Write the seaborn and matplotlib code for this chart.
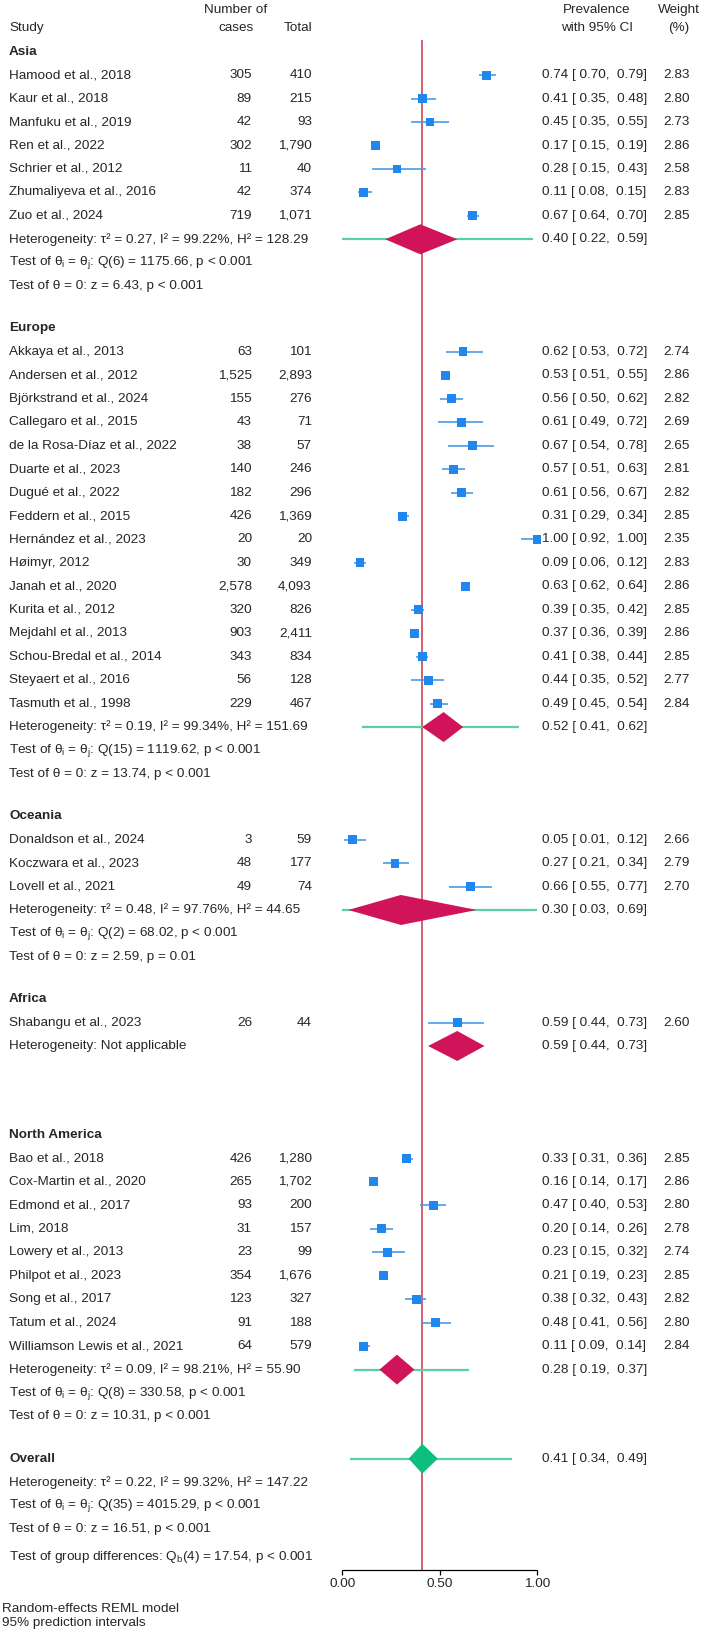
#!/usr/bin/env python3

# forest_plot.py
#
# Forest plot of the pooled prevalence by region, random-effects REML model.
import matplotlib
matplotlib.use('Agg')
import matplotlib.pyplot as plt
import numpy as np
import pandas as pd
import seaborn as sb

from matplotlib.patches import Polygon

# Study level data, in the order shown
REGIONS = ['Asia', 'Europe', 'Oceania', 'Africa', 'North America']
region = ['Asia'] * 7 + ['Europe'] * 16 + ['Oceania'] * 3 + ['Africa'] * 1 + ['North America'] * 9
studies = [
    'Hamood et al., 2018', 'Kaur et al., 2018', 'Manfuku et al., 2019', 'Ren et al., 2022',
    'Schrier et al., 2012', 'Zhumaliyeva et al., 2016', 'Zuo et al., 2024',
    'Akkaya et al., 2013', 'Andersen et al., 2012', 'Björkstrand et al., 2024', 'Callegaro et al., 2015',
    'de la Rosa-Díaz et al., 2022', 'Duarte et al., 2023', 'Dugué et al., 2022', 'Feddern et al., 2015',
    'Hernández et al., 2023', 'Høimyr, 2012', 'Janah et al., 2020', 'Kurita et al., 2012',
    'Mejdahl et al., 2013', 'Schou-Bredal et al., 2014', 'Steyaert et al., 2016', 'Tasmuth et al., 1998',
    'Donaldson et al., 2024', 'Koczwara et al., 2023', 'Lovell et al., 2021',
    'Shabangu et al., 2023',
    'Bao et al., 2018', 'Cox-Martin et al., 2020', 'Edmond et al., 2017', 'Lim, 2018',
    'Lowery et al., 2013', 'Philpot et al., 2023', 'Song et al., 2017', 'Tatum et al., 2024',
    'Williamson Lewis et al., 2021']
cases = [305, 89, 42, 302, 11, 42, 719,
         63, 1525, 155, 43, 38, 140, 182, 426, 20, 30, 2578, 320, 903, 343, 56, 229,
         3, 48, 49,
         26,
         426, 265, 93, 31, 23, 354, 123, 91, 64]
totals = [410, 215, 93, 1790, 40, 374, 1071,
          101, 2893, 276, 71, 57, 246, 296, 1369, 20, 349, 4093, 826, 2411, 834, 128, 467,
          59, 177, 74,
          44,
          1280, 1702, 200, 157, 99, 1676, 327, 188, 579]
prevalence = [0.74, 0.41, 0.45, 0.17, 0.28, 0.11, 0.67,
              0.62, 0.53, 0.56, 0.61, 0.67, 0.57, 0.61, 0.31, 1.00, 0.09, 0.63, 0.39, 0.37, 0.41, 0.44, 0.49,
              0.05, 0.27, 0.66,
              0.59,
              0.33, 0.16, 0.47, 0.20, 0.23, 0.21, 0.38, 0.48, 0.11]
lower = [0.70, 0.35, 0.35, 0.15, 0.15, 0.08, 0.64,
         0.53, 0.51, 0.50, 0.49, 0.54, 0.51, 0.56, 0.29, 0.92, 0.06, 0.62, 0.35, 0.36, 0.38, 0.35, 0.45,
         0.01, 0.21, 0.55,
         0.44,
         0.31, 0.14, 0.40, 0.14, 0.15, 0.19, 0.32, 0.41, 0.09]
upper = [0.79, 0.48, 0.55, 0.19, 0.43, 0.15, 0.70,
         0.72, 0.55, 0.62, 0.72, 0.78, 0.63, 0.67, 0.34, 1.00, 0.12, 0.64, 0.42, 0.39, 0.44, 0.52, 0.54,
         0.12, 0.34, 0.77,
         0.73,
         0.36, 0.17, 0.53, 0.26, 0.32, 0.23, 0.43, 0.56, 0.14]
weight = [2.83, 2.80, 2.73, 2.86, 2.58, 2.83, 2.85,
          2.74, 2.86, 2.82, 2.69, 2.65, 2.81, 2.82, 2.85, 2.35, 2.83, 2.86, 2.85, 2.86, 2.85, 2.77, 2.84,
          2.66, 2.79, 2.70,
          2.60,
          2.85, 2.86, 2.80, 2.78, 2.74, 2.85, 2.82, 2.80, 2.84]

# Subgroup summaries, one entry per region
group_est = [0.40, 0.52, 0.30, 0.59, 0.28]
group_lo = [0.22, 0.41, 0.03, 0.44, 0.19]
group_hi = [0.59, 0.62, 0.69, 0.73, 0.37]
pi_lo = [0.00, 0.10, 0.00, None, 0.06]
pi_hi = [0.98, 0.91, 1.00, None, 0.65]
heterogeneity = [
    'Heterogeneity: τ² = 0.27, I² = 99.22%, H² = 128.29',
    'Heterogeneity: τ² = 0.19, I² = 99.34%, H² = 151.69',
    'Heterogeneity: τ² = 0.48, I² = 97.76%, H² = 44.65',
    'Heterogeneity: Not applicable',
    'Heterogeneity: τ² = 0.09, I² = 98.21%, H² = 55.90']
q_tests = ['Q(6) = 1175.66, p < 0.001', 'Q(15) = 1119.62, p < 0.001', 'Q(2) = 68.02, p < 0.001',
           None, 'Q(8) = 330.58, p < 0.001']
z_tests = ['z = 6.43, p < 0.001', 'z = 13.74, p < 0.001', 'z = 2.59, p = 0.01',
           None, 'z = 10.31, p < 0.001']

# Overall summary
overall_est, overall_lo, overall_hi = 0.41, 0.34, 0.49
overall_pi = [0.04, 0.87]
overall_het = 'Heterogeneity: τ² = 0.22, I² = 99.32%, H² = 147.22'
overall_q = 'Q(35) = 4015.29, p < 0.001'
overall_z = 'z = 16.51, p < 0.001'
group_diff = 'Q$_\\mathrm{b}$(4) = 17.54, p < 0.001'

x_ticks = [0.0, 0.5, 1.0]
x_ticklabels = ['0.00', '0.50', '1.00']

# Colours
MARKER = '#1f87ee'
WHISKER = '#4a9be8'
DIAMOND = '#d11459'
OVERALL = '#0dbf7f'
PREDICTION = '#5ccfa0'
REFERENCE = '#d0606c'

# Layout, in figure pixels
WIDTH, HEIGHT = 709, 1634
ORIGIN, SCALE = 342.5, 194.5
TOP, STEP, GAP = 51.7, 23.45, 1.8
FONT = 9.7


def px(x):
    # Convert a horizontal pixel position to the prevalence scale
    return (x - ORIGIN) / SCALE


def row(r):
    return TOP + r * STEP


def text(x, y, s, ha='left', bold=False):
    plt.gca().text(px(x), y, s, ha=ha, va='center', fontsize=FONT,
                   fontweight='bold' if bold else 'normal')


def diamond(axis, est, lo, hi, y, color):
    half = 15
    axis.add_patch(Polygon([(lo, y), (est, y - half), (hi, y), (est, y + half)],
                           closed=True, facecolor=color, edgecolor='none', zorder=4))


def ci_label(est, lo, hi):
    return '{:.2f} [{:5.2f}, {:5.2f}]'.format(est, lo, hi)


def main():
    sb.set_style('white')
    plt.rcParams['font.family'] = ['Liberation Sans', 'DejaVu Sans']
    plt.rcParams['mathtext.fontset'] = 'custom'
    plt.rcParams['mathtext.rm'] = 'Liberation Sans'
    plt.rcParams['mathtext.it'] = 'Liberation Sans:italic'
    plt.rcParams['mathtext.bf'] = 'Liberation Sans:bold'

    figure = plt.figure(figsize=(WIDTH / 100, HEIGHT / 100), dpi=100)
    axis = figure.add_axes([0, 0, 1, 1])
    axis.set_xlim(px(0), px(WIDTH))
    axis.set_ylim(HEIGHT, 0)
    axis.axis('off')

    # Column headers
    text(236, 9.5, 'Number of', ha='center')
    text(236, 28, 'cases', ha='center')
    text(9, 28, 'Study')
    text(312, 28, 'Total', ha='right')
    text(597, 9.5, 'Prevalence', ha='center')
    text(597, 28, 'with 95% CI', ha='center')
    text(679, 9.5, 'Weight', ha='center')
    text(679, 28, '(%)', ha='center')

    # Work out the row for each study and summary
    df = pd.DataFrame({'region': region, 'study': studies, 'cases': cases, 'total': totals,
                       'prev': prevalence, 'lo': lower, 'hi': upper, 'weight': weight})
    df['y'] = 0.0
    current, summary = 0.0, []
    for ndx, name in enumerate(REGIONS):
        members = df.index[df['region'] == name]
        df.loc[members, 'y'] = [row(current + 1 + k) for k in range(len(members))]
        summary.append((name, current, current + len(members) + 1))
        current = current + len(members) + 3 + GAP
    overall_row = current

    # Study rows
    for _, item in df.iterrows():
        text(9, item['y'], item['study'])
        text(252, item['y'], '{:,}'.format(item['cases']), ha='right')
        text(312, item['y'], '{:,}'.format(item['total']), ha='right')
        text(542.5, item['y'], ci_label(item['prev'], item['lo'], item['hi']))
        text(690, item['y'], '{:.2f}'.format(item['weight']), ha='right')
    axis.hlines(df['y'], df['lo'], df['hi'], color=WHISKER, lw=1.2, zorder=3)
    side = 42.0 / 2.86
    sb.scatterplot(data=df, x='prev', y='y', size='weight', marker='s', color=MARKER,
                   sizes=(side * df['weight'].min(), side * df['weight'].max()),
                   size_norm=(df['weight'].min(), df['weight'].max()),
                   linewidth=0, legend=False, ax=axis, zorder=5)

    # Subgroup summaries
    for ndx, (name, label_row, het_row) in enumerate(summary):
        text(9, row(label_row), name, bold=True)
        y = row(het_row)
        text(9, y, heterogeneity[ndx])
        text(542.5, y, ci_label(group_est[ndx], group_lo[ndx], group_hi[ndx]))
        if pi_lo[ndx] is not None:
            axis.hlines(y, pi_lo[ndx], pi_hi[ndx], color=PREDICTION, lw=1.6, zorder=2)
        diamond(axis, group_est[ndx], group_lo[ndx], group_hi[ndx], y, DIAMOND)
        if q_tests[ndx] is not None:
            text(9, row(het_row + 1), 'Test of θ$_\\mathrm{i}$ = θ$_\\mathrm{j}$: ' + q_tests[ndx])
            text(9, row(het_row + 2), 'Test of θ = 0: ' + z_tests[ndx])

    # Overall summary
    y = row(overall_row)
    text(9, y, 'Overall', bold=True)
    text(542.5, y, ci_label(overall_est, overall_lo, overall_hi))
    axis.hlines(y, overall_pi[0], overall_pi[1], color=PREDICTION, lw=1.6, zorder=2)
    diamond(axis, overall_est, overall_lo, overall_hi, y, OVERALL)
    text(9, row(overall_row + 1), overall_het)
    text(9, row(overall_row + 2), 'Test of θ$_\\mathrm{i}$ = θ$_\\mathrm{j}$: ' + overall_q)
    text(9, row(overall_row + 3), 'Test of θ = 0: ' + overall_z)
    text(9, row(overall_row + 4.2), 'Test of group differences: ' + group_diff)

    # Reference line at the overall estimate and the x axis
    base = 1570
    axis.vlines(overall_est, 40, base, color=REFERENCE, lw=1.4, zorder=1)
    axis.hlines(base, x_ticks[0], x_ticks[-1], color='black', lw=0.9)
    axis.vlines(x_ticks, base, base + 5, color='black', lw=0.9)
    for tick, label in zip(x_ticks, x_ticklabels):
        axis.text(tick, base + 8, label, ha='center', va='top', fontsize=FONT)

    # Footnotes
    axis.text(px(1.5), 1609.5, 'Random-effects REML model', ha='left', va='center', fontsize=FONT)
    axis.text(px(1.5), 1623, '95% prediction intervals', ha='left', va='center', fontsize=FONT)

    plt.savefig('out.png', dpi=100)
    plt.close()


if __name__ == '__main__':
    main()
